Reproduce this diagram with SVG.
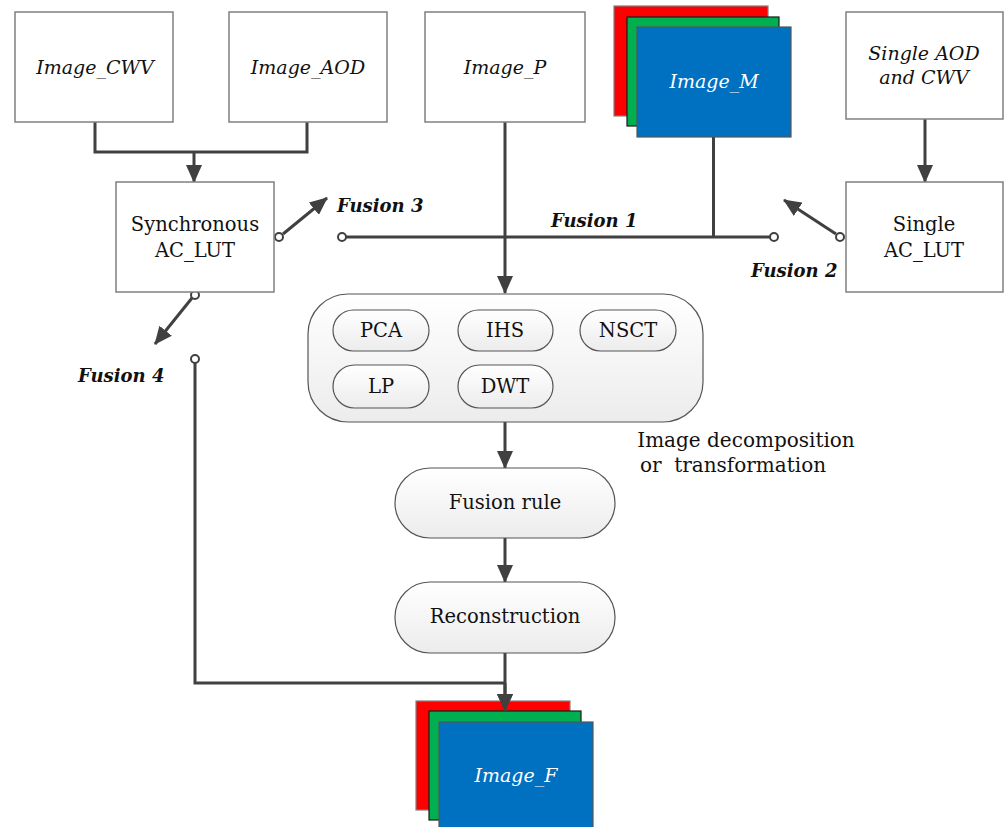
<svg xmlns="http://www.w3.org/2000/svg" width="1004" height="827" viewBox="0 0 1004 827">
<defs>
<marker id="ah" markerWidth="18" markerHeight="16" refX="17" refY="8" orient="auto" markerUnits="userSpaceOnUse">
<path d="M0,0 L18,8 L0,16 Z" fill="#404040"/>
</marker>
<linearGradient id="pg" x1="0" y1="0" x2="0" y2="1">
<stop offset="0" stop-color="#ffffff"/>
<stop offset="1" stop-color="#ececec"/>
</linearGradient>
<style>
.box{fill:#fff;stroke:#808080;stroke-width:1.5}
.pill{fill:url(#pg);stroke:#555;stroke-width:1.2}
text{font-family:"DejaVu Serif","Liberation Serif",serif}
.t{font-size:19.5px;fill:#111;text-anchor:middle}
.ti{font-size:19px;font-style:italic;fill:#111;text-anchor:middle}
.tw{font-size:19px;font-style:italic;fill:#fff;text-anchor:middle}
.tb{font-size:18px;font-style:italic;font-weight:bold;fill:#111}
.ln{fill:none;stroke:#404040;stroke-width:3}
.ar{fill:none;stroke:#404040;stroke-width:3;marker-end:url(#ah)}
.c{fill:#fff;stroke:#404040;stroke-width:2}
</style>
</defs>

<g id="connectors">
<path class="ln" d="M95,122 V152 H307 V122"/>
<path class="ar" d="M194,152 V182"/>
<path class="ar" d="M505,122 V293"/>
<path class="ln" d="M342,237 H774"/>
<path class="ln" d="M713.5,137 V237"/>
<path class="ar" d="M925,119 V182"/>
<path class="ar" d="M283,234 L327,198"/>
<path class="ar" d="M836,234 L784,200"/>
<path class="ar" d="M192,298 L155,344"/>
<path class="ln" d="M195,363 V683 H505"/>
<path class="ar" d="M505,422 V468"/>
<path class="ar" d="M505,538 V582"/>
<path class="ar" d="M505,653 V711"/>
<circle class="c" cx="279" cy="237" r="4"/>
<circle class="c" cx="342" cy="237" r="4"/>
<circle class="c" cx="774" cy="237" r="4"/>
<circle class="c" cx="840" cy="237" r="4"/>
<circle class="c" cx="195" cy="295" r="4"/>
<circle class="c" cx="195" cy="359" r="4"/>
</g>

<g id="labels">
<text class="tb" x="337" y="212">Fusion 3</text>
<text class="tb" x="551" y="227">Fusion 1</text>
<text class="tb" x="751" y="277">Fusion 2</text>
<text class="tb" x="78" y="382">Fusion 4</text>
<text class="t" x="746" y="447" style="font-size:20px">Image decomposition</text>
<text class="t" x="733" y="472" style="font-size:20px" xml:space="preserve">or  transformation</text>
</g>

<g id="image_cwv">
<rect class="box" x="15" y="12" width="158" height="110"/>
<text class="ti" x="95" y="74">Image_CWV</text>
</g>
<g id="image_aod">
<rect class="box" x="229" y="12" width="158" height="110"/>
<text class="ti" x="308" y="74">Image_AOD</text>
</g>
<g id="image_p">
<rect class="box" x="425" y="12" width="160" height="110"/>
<text class="ti" x="505" y="74">Image_P</text>
</g>
<g id="image_m">
<rect x="614" y="6" width="154" height="110" fill="#ff0000" stroke="#808080" stroke-width="1.2"/>
<rect x="627" y="17" width="152" height="109" fill="#00b050" stroke="#1a1a1a" stroke-width="1.2"/>
<rect x="637" y="27" width="154" height="110" fill="#0070c0" stroke="#555" stroke-width="1.2"/>
<text class="tw" x="714" y="88">Image_M</text>
</g>
<g id="single_aod_cwv">
<rect class="box" x="846" y="12" width="157" height="107"/>
<text class="ti" x="924" y="60">Single AOD</text>
<text class="ti" x="924" y="84">and CWV</text>
</g>
<g id="sync_aclut">
<rect class="box" x="116" y="182" width="158" height="110"/>
<text class="t" x="195" y="231">Synchronous</text>
<text class="t" x="195" y="257">AC_LUT</text>
</g>
<g id="single_aclut">
<rect class="box" x="846" y="182" width="157" height="110"/>
<text class="t" x="924" y="231">Single</text>
<text class="t" x="924" y="257">AC_LUT</text>
</g>
<g id="decomposition">
<rect class="pill" x="308" y="294" width="395" height="128" rx="40" ry="40"/>
<g id="pca"><rect class="pill" x="333" y="310" width="96" height="41" rx="20.5"/><text class="t" x="381" y="337">PCA</text></g>
<g id="ihs"><rect class="pill" x="458" y="310" width="95" height="41" rx="20.5"/><text class="t" x="505" y="337">IHS</text></g>
<g id="nsct"><rect class="pill" x="580" y="310" width="96" height="41" rx="20.5"/><text class="t" x="628" y="337">NSCT</text></g>
<g id="lp"><rect class="pill" x="333" y="365" width="96" height="43" rx="21.5"/><text class="t" x="381" y="393">LP</text></g>
<g id="dwt"><rect class="pill" x="458" y="365" width="95" height="43" rx="21.5"/><text class="t" x="505" y="393">DWT</text></g>
</g>
<g id="fusion_rule">
<rect class="pill" x="395" y="468" width="220" height="70" rx="35"/>
<text class="t" x="505" y="509">Fusion rule</text>
</g>
<g id="reconstruction">
<rect class="pill" x="395" y="582" width="220" height="71" rx="35"/>
<text class="t" x="505" y="623">Reconstruction</text>
</g>
<g id="image_f">
<rect x="416" y="701" width="154" height="109" fill="#ff0000" stroke="#808080" stroke-width="1.2"/>
<rect x="429" y="711" width="152" height="109" fill="#00b050" stroke="#1a1a1a" stroke-width="1.2"/>
<rect x="439" y="722" width="154" height="110" fill="#0070c0" stroke="#555" stroke-width="1.2"/>
<text class="tw" x="516" y="782">Image_F</text>
</g>
<path class="ar" d="M505,683 V711"/>
</svg>
